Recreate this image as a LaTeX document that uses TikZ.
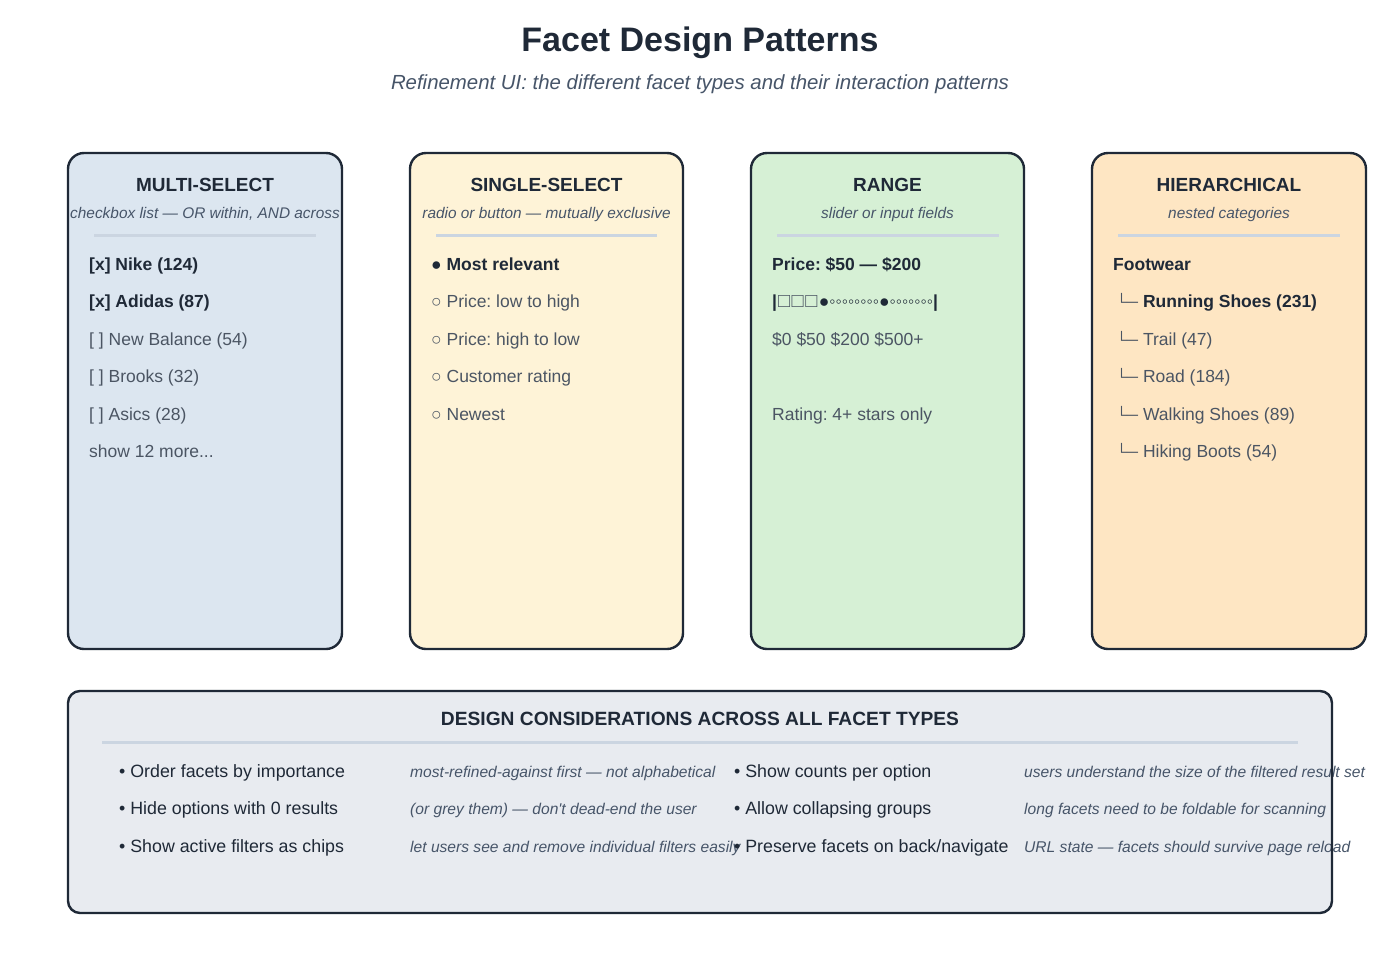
\documentclass[tikz,border=0pt]{standalone}
\usepackage{fontspec}
\setmainfont{Liberation Sans}[Ligatures=TeXOff]
\frenchspacing
\definecolor{ink}{HTML}{1F2937}
\definecolor{mute}{HTML}{4B5563}
\definecolor{subt}{HTML}{475569}
\definecolor{rule}{HTML}{CBD5E1}
\definecolor{cardA}{HTML}{DCE6F0}
\definecolor{cardB}{HTML}{FEF3D7}
\definecolor{cardC}{HTML}{D6F0D5}
\definecolor{cardD}{HTML}{FEE6C3}
\definecolor{panel}{HTML}{E8EBF0}
\newcommand\fsItem{\fontsize{17.5}{21}\selectfont}
\newcommand\fsBul{\fontsize{17.8}{21}\selectfont}
\newcommand\fsSub{\fontsize{15.4}{18}\selectfont}
\newcommand\fsNote{\fontsize{15.6}{18}\selectfont}
\newcommand\tree{{\fontsize{15.5}{18}\selectfont└─}}
\newcommand\tofu{{\fontsize{20}{24}\selectfont□}\kern1.5pt}
\begin{document}
\begin{tikzpicture}[x=1pt,y=-1pt,
  card/.style={draw=ink,line width=2.4pt,rounded corners=16pt},
  sep/.style={draw=rule,line width=2.4pt},
  hd/.style={anchor=base,inner sep=0pt,text=ink,font=\fontsize{19}{22}\selectfont\bfseries},
  sub/.style={anchor=base,inner sep=0pt,text=subt,font=\fsSub\itshape},
  it/.style={anchor=base west,inner sep=0pt,text=mute,font=\fsItem},
  itb/.style={anchor=base west,inner sep=0pt,text=ink,font=\fsItem\bfseries},
  note/.style={anchor=base west,inner sep=0pt,text=subt,font=\fsNote\itshape},
  bul/.style={anchor=base west,inner sep=0pt,text=ink,font=\fsBul}]
\path[use as bounding box,fill=white] (0,0) rectangle (1400,956);
% title
\node[anchor=base,inner sep=0pt,text=ink,font=\fontsize{34}{40}\selectfont\bfseries] (title) at (700,51) {Facet Design Patterns};
\node[anchor=base,inner sep=0pt,text=subt,font=\fontsize{20.4}{24}\selectfont\itshape] (subtitle) at (700,89) {Refinement UI: the different facet types and their interaction patterns};
% cards
\draw[card,fill=cardA] (68,153) rectangle (342,649);
\draw[card,fill=cardB] (410,153) rectangle (683,649);
\draw[card,fill=cardC] (751,153) rectangle (1024,649);
\draw[card,fill=cardD] (1092,153) rectangle (1366,649);
% card 1
\node[hd] (h1) at (205,191.5) {MULTI-SELECT};
\node[sub] (s1) at (205,218.5) {checkbox list — OR within, AND across};
\draw[sep] (94,235.5) -- (316,235.5);
\node[itb] (a1) at (89,270) {[x] Nike (124)};
\node[itb] (a2) at (89,307.5) {[x] Adidas (87)};
\node[it] (a3) at (89,345) {[ ] New Balance (54)};
\node[it] (a4) at (89,382.5) {[ ] Brooks (32)};
\node[it] (a5) at (89,420) {[ ] Asics (28)};
\node[it] (a6) at (89,457.5) {show 12 more...};
% card 2
\node[hd] (h2) at (546.5,191.5) {SINGLE-SELECT};
\node[sub] (s2) at (546.5,218.5) {radio or button — mutually exclusive};
\draw[sep] (436,235.5) -- (657,235.5);
\node[itb] (b1) at (431,270) {● Most relevant};
\node[it] (b2) at (431,307.5) {○ Price: low to high};
\node[it] (b3) at (431,345) {○ Price: high to low};
\node[it] (b4) at (431,382.5) {○ Customer rating};
\node[it] (b5) at (431,420) {○ Newest};
% card 3
\node[hd] (h3) at (887.5,191.5) {RANGE};
\node[sub] (s3) at (887.5,218.5) {slider or input fields};
\draw[sep] (777,235.5) -- (999,235.5);
\node[itb] (c1) at (772,270) {Price: \$50 — \$200};
\node[itb] (c2) at (772,307.5) {|\kern1pt{\mdseries\color{mute}\tofu\tofu\tofu}●{\mdseries ◦◦◦◦◦◦◦◦}●{\mdseries ◦◦◦◦◦◦◦}|};
\node[it] (c3) at (772,345) {\$0 \$50 \$200 \$500+};
\node[it] (c4) at (772,420) {Rating: 4+ stars only};
% card 4
\node[hd] (h4) at (1229,191.5) {HIERARCHICAL};
\node[sub] (s4) at (1229,218.5) {nested categories};
\draw[sep] (1118,235.5) -- (1340,235.5);
\node[itb] (d1) at (1113,270) {Footwear};
\node[itb] (d2) at (1116,307.5) {{\mdseries\color{mute}\tree} Running Shoes (231)};
\node[it] (d3) at (1116,345) {\tree{} Trail (47)};
\node[it] (d4) at (1116,382.5) {\tree{} Road (184)};
\node[it] (d5) at (1116,420) {\tree{} Walking Shoes (89)};
\node[it] (d6) at (1116,457.5) {\tree{} Hiking Boots (54)};
% bottom panel
\fill[panel,rounded corners=12pt] (68,691) rectangle (1332,913);
\node[hd,font=\fontsize{19.2}{22}\selectfont\bfseries] (ht) at (700,725.5) {DESIGN CONSIDERATIONS ACROSS ALL FACET TYPES};
\draw[sep] (102,742.5) -- (1298,742.5);
\node[bul] (p1) at (119,777) {• Order facets by importance};
\node[note] (n1) at (410,777) {most-refined-against first — not alphabetical};
\node[bul] (p2) at (119,814.5) {• Hide options with 0 results};
\node[note] (n2) at (410,814.5) {(or grey them) — don't dead-end the user};
\node[bul] (p3) at (119,852) {• Show active filters as chips};
\node[note] (n3) at (410,852) {let users see and remove individual filters easily};
\node[bul] (q1) at (734,777) {• Show counts per option};
\node[note] (m1) at (1024,777) {users understand the size of the filtered result set};
\node[bul] (q2) at (734,814.5) {• Allow collapsing groups};
\node[note] (m2) at (1024,814.5) {long facets need to be foldable for scanning};
\node[bul] (q3) at (734,852) {• Preserve facets on back/navigate};
\node[note] (m3) at (1024,852) {URL state — facets should survive page reload};
\draw[draw=ink,line width=2.4pt,rounded corners=12pt] (68,691) rectangle (1332,913);
\end{tikzpicture}
\end{document}
